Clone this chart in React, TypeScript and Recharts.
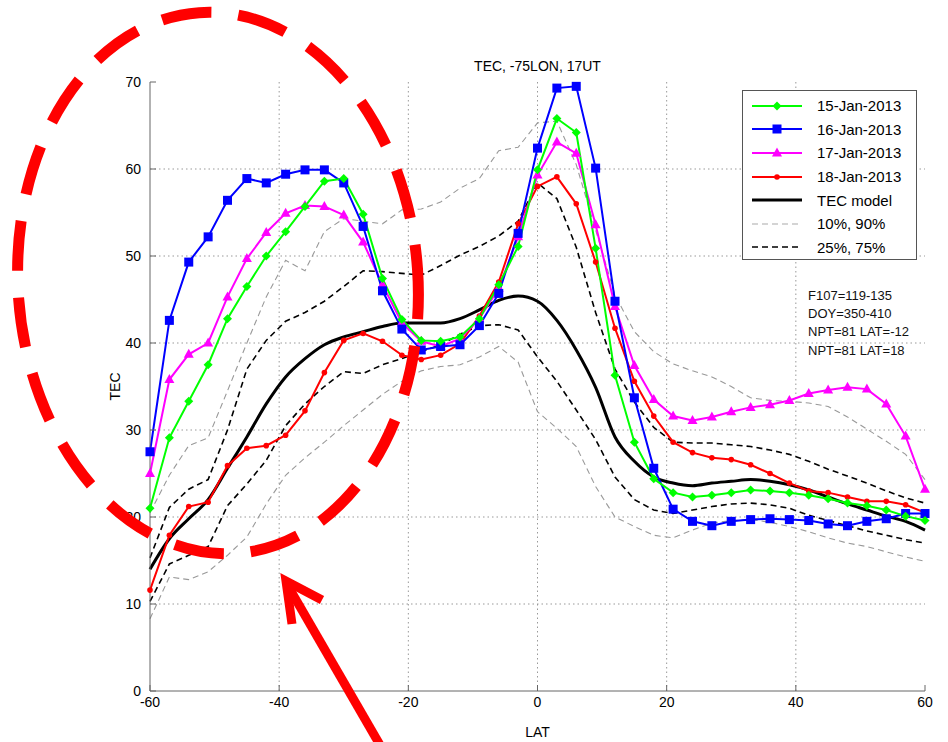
import { LineChart, Line, XAxis, YAxis, CartesianGrid } from "recharts";

// latitude grid, every 3 degrees
const lat = [
  -60, -57, -54, -51, -48, -45, -42, -39, -36, -33, -30, -27, -24, -21, -18, -15, -12, -9, -6, -3,
  0, 3, 6, 9, 12, 15, 18, 21, 24, 27, 30, 33, 36, 39, 42, 45, 48, 51, 54, 57, 60,
];

const jan15 = [
  21.0, 29.1, 33.3, 37.5, 42.8, 46.5, 50.0, 52.8, 55.7, 58.6, 58.9, 54.8, 47.4, 42.7, 40.3, 40.2, 40.7, 42.8, 46.7, 51.1,
  59.9, 65.8, 64.2, 50.9, 36.3, 28.6, 24.4, 22.8, 22.3, 22.5, 22.8, 23.1, 23.0, 22.8, 22.5, 22.1, 21.6, 21.3, 20.8, 20.1, 19.6,
];
const jan16 = [
  27.5, 42.6, 49.3, 52.2, 56.4, 58.9, 58.4, 59.4, 59.9, 59.9, 58.4, 53.4, 46.0, 41.6, 39.2, 39.6, 39.8, 42.0, 45.7, 52.6,
  62.4, 69.3, 69.5, 60.1, 44.8, 33.7, 25.6, 20.9, 19.5, 19.0, 19.5, 19.7, 19.8, 19.7, 19.6, 19.2, 19.0, 19.5, 19.8, 20.4, 20.4,
];
const jan17 = [
  25.0, 35.8, 38.7, 40.0, 45.3, 49.7, 52.7, 54.9, 55.8, 55.7, 54.7, 51.6, 46.7, 42.3, 40.2, 39.6, 40.5, 42.8, 46.3, 52.2,
  59.3, 63.1, 61.8, 53.6, 44.2, 37.4, 33.5, 31.6, 31.1, 31.5, 32.1, 32.6, 32.9, 33.4, 34.2, 34.6, 34.9, 34.7, 33.0, 29.3, 23.2,
];
const jan18 = [
  11.6, 17.9, 21.2, 21.7, 25.9, 27.9, 28.2, 29.4, 32.2, 36.6, 40.3, 41.1, 40.2, 38.6, 38.1, 38.6, 39.9, 43.1, 47.0, 53.7,
  58.0, 59.1, 56.0, 49.3, 41.7, 35.6, 31.6, 28.6, 27.4, 26.8, 26.6, 26.0, 25.0, 23.9, 23.0, 22.8, 22.3, 21.8, 21.8, 21.4, 20.5,
];
const model = [
  14.0, 17.5, 19.8, 22.0, 25.6, 29.2, 33.0, 36.1, 38.2, 39.8, 40.7, 41.3, 41.9, 42.3, 42.3, 42.3, 42.8, 43.8, 44.9, 45.4,
  44.8, 42.6, 39.2, 34.9, 29.2, 26.4, 24.6, 23.9, 23.6, 23.9, 24.1, 24.3, 24.1, 23.7, 23.1, 22.3, 21.5, 20.8, 20.1, 19.5, 18.5,
];
const p10 = [
  8.3, 13.1, 12.8, 13.7, 15.6, 17.7, 21.5, 24.8, 26.8, 28.6, 30.5, 32.3, 34.1, 35.6, 36.8, 37.3, 37.5, 38.4, 39.6, 37.8,
  32.1, 30.2, 28.1, 23.5, 20.0, 18.9, 17.9, 17.6, 18.5, 19.3, 19.6, 19.7, 19.4, 18.9, 18.3, 17.6, 17.0, 16.6, 16.0, 15.4, 14.9,
];
const p90 = [
  20.5, 24.8, 28.2, 29.1, 34.5, 40.0, 45.3, 49.5, 48.3, 52.8, 54.3, 54.0, 53.7, 55.3, 55.4, 56.2, 57.8, 58.9, 62.1, 62.5,
  65.3, 65.5, 60.5, 53.0, 45.5, 41.3, 39.0, 37.6, 36.8, 36.1, 35.0, 33.7, 33.4, 33.3, 33.1, 32.7, 31.5, 30.1, 28.7, 27.2, 24.3,
];
const p25 = [
  10.3, 14.6, 15.6, 16.6, 21.3, 23.8, 26.5, 30.5, 33.0, 35.0, 36.7, 36.5, 37.5, 38.2, 39.0, 39.8, 41.0, 42.0, 42.1, 41.5,
  38.4, 35.6, 32.3, 28.9, 24.6, 22.0, 20.8, 20.4, 20.8, 21.2, 21.5, 21.6, 21.4, 21.0, 20.2, 19.6, 19.0, 18.4, 17.9, 17.4, 17.0,
];
const p75 = [
  15.3, 21.1, 23.2, 24.3, 30.0, 37.0, 40.3, 42.5, 43.5, 44.8, 46.5, 48.3, 48.2, 48.0, 47.8, 48.9, 50.1, 51.1, 52.3, 54.0,
  58.4, 56.6, 51.0, 43.5, 37.0, 33.2, 30.3, 28.6, 28.5, 28.5, 28.3, 28.1, 27.7, 27.2, 26.4, 25.5, 24.7, 23.9, 23.0, 22.2, 21.6,
];

const xTicks = [-60, -40, -20, 0, 20, 40, 60];
const yTicks = [0, 10, 20, 30, 40, 50, 60, 70];
const infoLines = ["F107=119-135", "DOY=350-410", "NPT=81 LAT=-12", "NPT=81 LAT=18"];

const data = lat.map((l, i) => ({
  lat: l,
  jan15: jan15[i],
  jan16: jan16[i],
  jan17: jan17[i],
  jan18: jan18[i],
  model: model[i],
  p10: p10[i],
  p90: p90[i],
  p25: p25[i],
  p75: p75[i],
}));

const FONT = "'Liberation Sans', Arial, Helvetica, sans-serif";

function diamond(color: string) {
  return (p: any) => (
    <polygon
      key={p.index}
      points={`${p.cx},${p.cy - 4.5} ${p.cx + 4.5},${p.cy} ${p.cx},${p.cy + 4.5} ${p.cx - 4.5},${p.cy}`}
      fill={color}
    />
  );
}
function square(color: string) {
  return (p: any) => (
    <rect key={p.index} x={p.cx - 4.5} y={p.cy - 4.5} width={9} height={9} fill={color} />
  );
}
function triangle(color: string) {
  return (p: any) => (
    <polygon
      key={p.index}
      points={`${p.cx},${p.cy - 5.5} ${p.cx + 5},${p.cy + 3.5} ${p.cx - 5},${p.cy + 3.5}`}
      fill={color}
    />
  );
}
function dotMark(color: string) {
  return (p: any) => <circle key={p.index} cx={p.cx} cy={p.cy} r={2.8} fill={color} />;
}

const legendItems = [
  { name: "15-Jan-2013", color: "#00ff00", w: 2, dash: "", mark: "d" },
  { name: "16-Jan-2013", color: "#0000ff", w: 2, dash: "", mark: "s" },
  { name: "17-Jan-2013", color: "#ff00ff", w: 2, dash: "", mark: "t" },
  { name: "18-Jan-2013", color: "#ff0000", w: 2, dash: "", mark: "o" },
  { name: "TEC model", color: "#000000", w: 3, dash: "", mark: "" },
  { name: "10%, 90%", color: "#aaaaaa", w: 1.2, dash: "6 4", mark: "" },
  { name: "25%, 75%", color: "#000000", w: 1.6, dash: "6 4", mark: "" },
];

function LegendBox() {
  return (
    <div
      style={{
        position: "absolute",
        left: 742,
        top: 90,
        width: 175,
        height: 170,
        border: "1px solid #555",
        background: "#fff",
        fontFamily: FONT,
        fontSize: 15,
        boxSizing: "border-box",
        paddingTop: 3,
      }}
    >
      {legendItems.map((it) => (
        <div key={it.name} style={{ display: "flex", alignItems: "center", height: 23.6 }}>
          <svg width={58} height={14} style={{ marginLeft: 8, marginRight: 8 }}>
            <line x1={1} y1={7} x2={51} y2={7} stroke={it.color} strokeWidth={it.w} strokeDasharray={it.dash} />
            {it.mark === "d" && <polygon points="26,2.5 30.5,7 26,11.5 21.5,7" fill={it.color} />}
            {it.mark === "s" && <rect x={21.5} y={2.5} width={9} height={9} fill={it.color} />}
            {it.mark === "t" && <polygon points="26,1.5 31,10.5 21,10.5" fill={it.color} />}
            {it.mark === "o" && <circle cx={26} cy={7} r={2.8} fill={it.color} />}
          </svg>
          <span style={{ color: "#000", whiteSpace: "nowrap" }}>{it.name}</span>
        </div>
      ))}
    </div>
  );
}

export default function App() {
  return (
    <div style={{ position: "absolute", left: 0, top: 0, width: 948, height: 742, background: "#fff" }}>
      <div
        style={{
          position: "absolute",
          left: 0,
          width: 1075,
          top: 58,
          textAlign: "center",
          fontFamily: FONT,
          fontSize: 14,
        }}
      >
        TEC, -75LON, 17UT
      </div>
      <LineChart
        width={948}
        height={742}
        data={data}
        margin={{ top: 82, right: 23, bottom: 1, left: 0 }}
        style={{ fontFamily: FONT }}
      >
        <CartesianGrid
          stroke="#999"
          strokeDasharray="1.5 3"
          horizontalValues={[10, 20, 30, 40, 50, 60]}
          verticalValues={[-40, -20, 0, 20, 40]}
        />
        <XAxis
          dataKey="lat"
          type="number"
          domain={[-60, 60]}
          ticks={xTicks}
          height={50}
          stroke="#666"
          tickSize={-6}
          tickMargin={12}
          tick={{ fill: "#000", fontSize: 14 }}
          label={{ value: "LAT", position: "insideBottom", offset: 4, fill: "#000", fontSize: 14 }}
        />
        <XAxis
          xAxisId="top"
          orientation="top"
          type="number"
          domain={[-60, 60]}
          ticks={xTicks}
          height={0}
          stroke="#666"
          tickSize={-6}
          tick={false}
        />
        <YAxis
          type="number"
          domain={[0, 70]}
          ticks={yTicks}
          width={150}
          stroke="#666"
          tickSize={-6}
          tickMargin={15}
          tick={{ fill: "#000", fontSize: 14 }}
          label={{ value: "TEC", angle: -90, position: "center", dx: 40, fill: "#000", fontSize: 14 }}
        />
        <YAxis
          yAxisId="right"
          orientation="right"
          type="number"
          domain={[0, 70]}
          ticks={yTicks}
          width={0}
          stroke="#666"
          tickSize={-6}
          tick={false}
        />
        <Line dataKey="p90" stroke="#999" strokeWidth={1.1} strokeDasharray="6 4" dot={false} isAnimationActive={false} />
        <Line dataKey="p10" stroke="#999" strokeWidth={1.1} strokeDasharray="6 4" dot={false} isAnimationActive={false} />
        <Line dataKey="p75" stroke="#000" strokeWidth={1.6} strokeDasharray="6 4" dot={false} isAnimationActive={false} />
        <Line dataKey="p25" stroke="#000" strokeWidth={1.6} strokeDasharray="6 4" dot={false} isAnimationActive={false} />
        <Line dataKey="model" type="monotone" stroke="#000" strokeWidth={3} dot={false} isAnimationActive={false} />
        <Line dataKey="jan18" stroke="#ff0000" strokeWidth={2} dot={dotMark("#ff0000")} isAnimationActive={false} />
        <Line dataKey="jan17" stroke="#ff00ff" strokeWidth={2} dot={triangle("#ff00ff")} isAnimationActive={false} />
        <Line dataKey="jan16" stroke="#0000ff" strokeWidth={2} dot={square("#0000ff")} isAnimationActive={false} />
        <Line dataKey="jan15" stroke="#00ff00" strokeWidth={2} dot={diamond("#00ff00")} isAnimationActive={false} />
      </LineChart>
      <LegendBox />
      <div
        style={{
          position: "absolute",
          left: 808,
          top: 287,
          fontFamily: FONT,
          fontSize: 13,
          lineHeight: "18.2px",
          color: "#111",
          whiteSpace: "nowrap",
        }}
      >
        {infoLines.map((t) => (
          <div key={t}>{t}</div>
        ))}
      </div>
      <svg
        width={948}
        height={742}
        style={{ position: "absolute", left: 0, top: 0, pointerEvents: "none" }}
      >
        <ellipse
          cx={218}
          cy={283}
          rx={200}
          ry={271}
          transform="rotate(-4 218 283)"
          fill="none"
          stroke="#ff0000"
          strokeWidth={11}
          strokeDasharray="50 27"
        />
        <line x1={380} y1={745} x2={288} y2={586} stroke="#ff0000" strokeWidth={9} />
        <polyline points="322,600 286,581 292,624" fill="none" stroke="#ff0000" strokeWidth={9} strokeLinejoin="miter" />
      </svg>
    </div>
  );
}
